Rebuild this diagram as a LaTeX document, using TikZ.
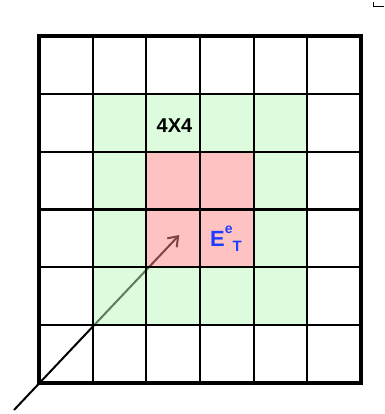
\documentclass[tikz,border=0pt]{standalone}
\usepackage{fontspec}
\setmainfont{Liberation Sans}
\usetikzlibrary{arrows.meta}
\definecolor{ringgreen}{RGB}{187,247,187}
\definecolor{corepink}{RGB}{255,133,133}
\definecolor{labelblue}{RGB}{28,60,255}

\begin{document}
\begin{tikzpicture}[x=1pt, y=-1pt,
    cellline/.style={line width=2.2pt},
    border/.style={line width=4.8pt},
    shade/.style={fill opacity=0.5},
    lbl/.style={inner sep=0pt, font=\bfseries}]
  \useasboundingbox (0,0) rectangle (384,414);
  % ray entering at the lower left corner
  \coordinate (origin) at (14,410);
  \coordinate (tip) at (179.3,235);
  \draw[line width=2pt, -{Straight Barb[length=9pt,width=13pt]}] (origin) -- (tip);
  % 4x4 ring and the 2x2 core
  \fill[ringgreen, shade, even odd rule] (92.7,93.8) rectangle (307.3,325.2)
    (146.3,151.7) rectangle (253.7,267.3);
  \fill[corepink, shade] (146.3,151.7) rectangle (253.7,267.3);
  % cell lines
  \foreach \i in {1,...,5} {
    \draw[cellline] ({39+\i*53.667},36) -- ({39+\i*53.667},383);
    \draw[cellline] (39,{36+\i*57.833}) -- (361,{36+\i*57.833});
  }
  \draw[border] (39,36) rectangle (361,383);
  \draw[line width=1.5pt] (373.7,2.5) -- (373.7,6.7) -- (384,6.7);
  % labels
  \node[lbl, anchor=base, font=\bfseries\fontsize{20}{20}\selectfont] (ring) at (174.5,132.7) {4X4};
  \node[lbl, anchor=base west, text=labelblue] (field) at (210,246)
    {\fontsize{22}{22}\selectfont E\raisebox{13pt}{\fontsize{14}{14}\selectfont e}\raisebox{-5.7pt}{\fontsize{15}{15}\selectfont T}};
\end{tikzpicture}
\end{document}
